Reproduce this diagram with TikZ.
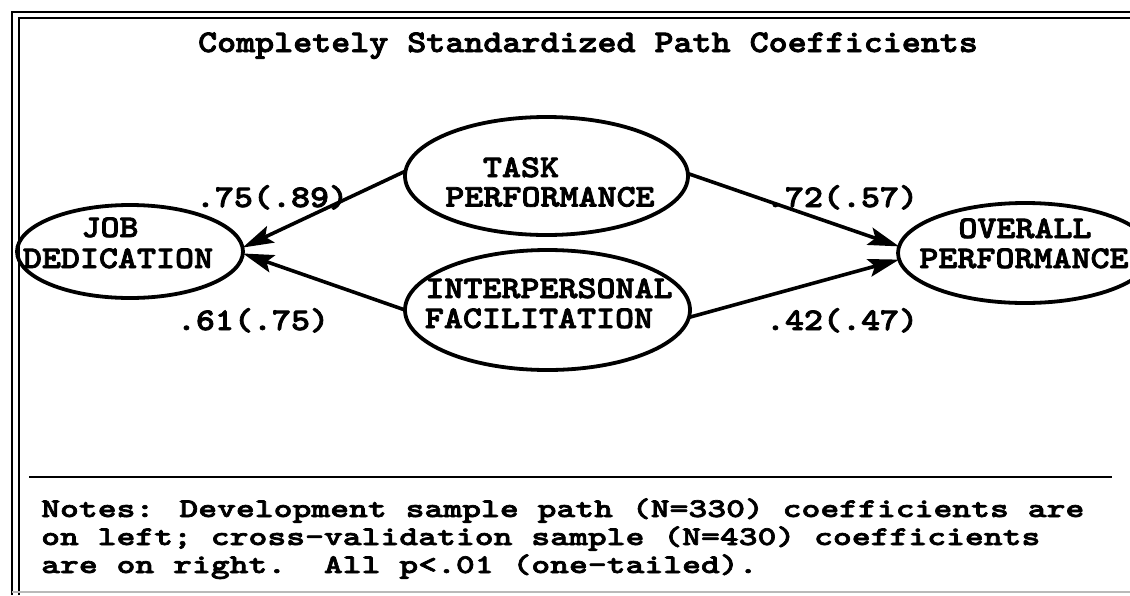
\documentclass[tikz,border=0pt]{standalone}
\usepackage{fontspec}
\usetikzlibrary{arrows.meta,shapes.geometric}
\newfontfamily\cour[FakeStretch=1.15,FakeBold=2.5]{lmmonolt10-bold.otf}
\newfontfamily\courn[FakeStretch=1.33,FakeBold=2.5]{lmmonolt10-bold.otf}
\begin{document}
\begin{tikzpicture}[x=1pt,y=-1pt,
  ell/.style={draw, line width=3.8pt, ellipse, inner sep=0pt, outer sep=0pt},
  txt/.style={inner sep=0pt, anchor=base, font=\fontsize{31.5}{31.5}\selectfont\cour},
  notetxt/.style={inner sep=0pt, anchor=base west, font=\fontsize{27}{27}\selectfont\courn},
  pathline/.style={line width=3.6pt, -{Stealth[length=31pt,width=18pt,inset=6pt]}},
  framel/.style={line width=2.4pt}]
\useasboundingbox (0,0) rectangle (1130,595);
\begin{scope}
\clip (0,0) rectangle (1130,595);
% frame
\draw[framel] (12,595) -- (12,12) -- (1130,12);
\draw[framel] (19,595) -- (19,18) -- (1130,18);
\draw[line width=2pt, gray!55] (12,592) -- (1130,592);
% title
\node[txt] (title) at (588,52) {Completely Standardized Path Coefficients};
% ellipses
\node[ell, minimum width=226pt, minimum height=93pt] (job) at (130,251.5) {};
\node[ell, minimum width=283pt, minimum height=118pt] (task) at (546.5,176) {};
\node[ell, minimum width=285pt, minimum height=120pt] (inter) at (547.5,310) {};
\node[ell, minimum width=254pt, minimum height=100pt] (overall) at (1025,253) {};
% ellipse texts
\node[txt] (jobA) at (110,237) {JOB};
\node[txt] (jobB) at (118,268) {DEDICATION};
\node[txt] (taskA) at (521,177) {TASK};
\node[txt] (taskB) at (550,206.5) {PERFORMANCE};
\node[txt] (interA) at (549,298) {INTERPERSONAL};
\node[txt] (interB) at (539,328) {FACILITATION};
\node[txt] (ovA) at (1025,238) {OVERALL};
\node[txt] (ovB) at (1024,268) {PERFORMANCE};
% paths
\draw[pathline] (task.178) -- (job.2);
\draw[pathline] (inter.west) -- (job.-1);
\draw[pathline] (task.1) -- (overall.177);
\draw[pathline] (inter.-3) -- (overall.183);
% coefficients
\node[txt] (c1) at (272,207) {.75(.89)};
\node[txt] (c2) at (253,330) {.61(.75)};
\node[txt] (c3) at (842,207) {.72(.57)};
\node[txt] (c4) at (842,330) {.42(.47)};
% rule
\coordinate (ruleL) at (29,477);
\coordinate (ruleR) at (1112,477);
\draw[line width=2.8pt] (ruleL) -- (ruleR);
% notes
\node[notetxt] (n1) at (41,517) {Notes: Development sample path (N=330) coefficients are};
\node[notetxt] (n2) at (41,545) {on left; cross-validation sample (N=430) coefficients};
\node[notetxt] (n3) at (41,573) {are on right.\ \ All p<.01 (one-tailed).};
\end{scope}
\end{tikzpicture}
\end{document}
